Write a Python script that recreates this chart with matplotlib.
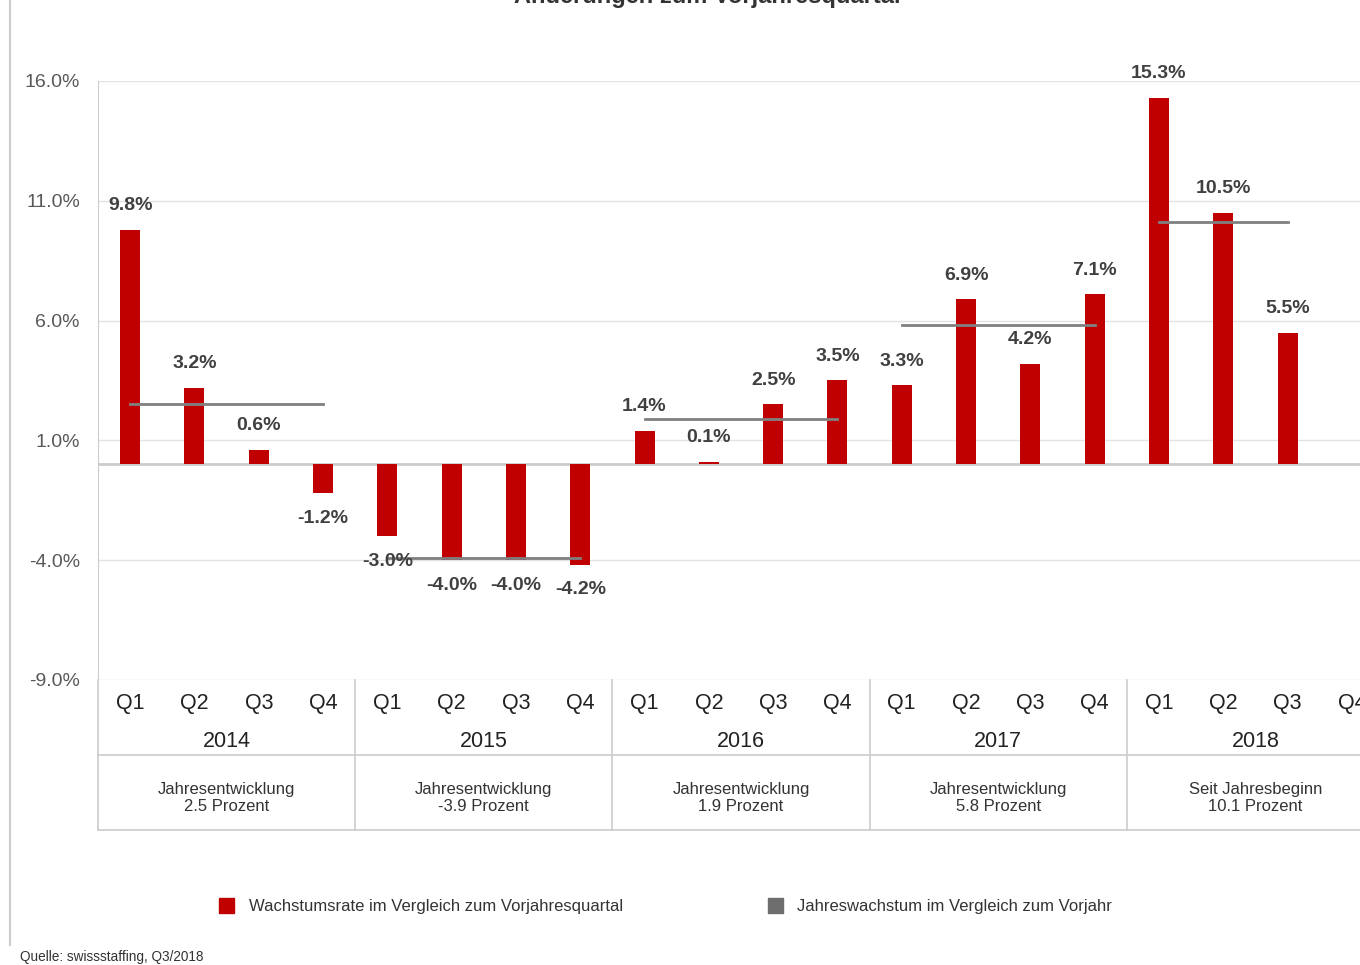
import matplotlib.pyplot as plt
import matplotlib.patches as mpatches
from matplotlib.lines import Line2D

plt.rcParams['font.family'] = ['Liberation Sans', 'DejaVu Sans']

# Data
years = ['2014', '2015', '2016', '2017', '2018']
quarters = ['Q1', 'Q2', 'Q3', 'Q4']
quarterly = [9.8, 3.2, 0.6, -1.2,
             -3.0, -4.0, -4.0, -4.2,
             1.4, 0.1, 2.5, 3.5,
             3.3, 6.9, 4.2, 7.1,
             15.3, 10.5, 5.5]
annual = [2.5, -3.9, 1.9, 5.8, 10.1]
annual_titles = ['Jahresentwicklung', 'Jahresentwicklung', 'Jahresentwicklung',
                 'Jahresentwicklung', 'Seit Jahresbeginn']
annual_text = ['2.5 Prozent', '-3.9 Prozent', '1.9 Prozent', '5.8 Prozent', '10.1 Prozent']
yticks = [16, 11, 6, 1, -4, -9]

red = '#c00000'
gray = '#808080'
grid = '#e3e3e3'
txt = '#404040'

fig = plt.figure(figsize=(13.6, 9.65), dpi=100)
ax = fig.add_axes([98 / 1360, 285 / 965, 1286 / 1360, 599 / 965])

x = list(range(len(quarterly)))
ax.bar(x, quarterly, width=0.31, color=red, zorder=3)

# value labels
for xi, v in zip(x, quarterly):
    off = 24 if v >= 0 else -25
    ax.annotate(f'{v:.1f}%', (xi, v), xytext=(0, off * 0.72), textcoords='offset points',
                ha='center', va='center', fontsize=14, fontweight='bold', color=txt, zorder=5)

# annual growth lines
for i, a in enumerate(annual):
    x0 = i * 4
    x1 = min(i * 4 + 3, len(quarterly) - 1)
    ax.plot([x0, x1], [a, a], color=gray, lw=2, zorder=4)

ax.set_xlim(-0.5, 19.5)
ax.set_ylim(-9, 16)
ax.set_yticks(yticks)
ax.set_yticklabels([f'{t:.1f}%' for t in yticks])
ax.tick_params(axis='y', length=0, pad=13, labelsize=14, labelcolor='#595959')
ax.set_xticks([])
for t in yticks:
    ax.axhline(t, color=grid, lw=1, zorder=1)
ax.axhline(0, color='#cccccc', lw=2, zorder=2)
for s in ['top', 'right', 'bottom']:
    ax.spines[s].set_visible(False)
ax.spines['left'].set_color('#cccccc')

# category area below the plot
tr = ax.get_xaxis_transform()
line_kw = dict(color='#cccccc', lw=1.2, transform=tr, clip_on=False)
ax.plot([-0.5, 19.5], [-0.125, -0.125], **line_kw)
ax.plot([-0.5, 19.5], [-0.25, -0.25], **line_kw)
ax.plot([-0.5, -0.5], [0, -0.25], **line_kw)
for b in [3.5, 7.5, 11.5, 15.5]:
    ax.plot([b, b], [0, -0.25], **line_kw)

for i, yr in enumerate(years):
    for j, q in enumerate(quarters):
        ax.text(i * 4 + j, -0.04, q, transform=tr, ha='center', va='center',
                fontsize=15.5, color='#222222')
    ax.text(i * 4 + 1.5, -0.1035, yr, transform=tr, ha='center', va='center',
            fontsize=15.5, color='#222222')
    ax.text(i * 4 + 1.5, -0.197, annual_titles[i] + '\n' + annual_text[i], transform=tr,
            ha='center', va='center', fontsize=12, color='#333333', linespacing=1.15)

# cut-off title at the top (only its lower edge is visible)
fig.text(0.52, 1 - 3 / 965, 'Änderungen zum Vorjahresquartal', ha='center', va='baseline',
         fontsize=17, fontweight='bold', color='#333333')

# left frame line
fig.add_artist(Line2D([10 / 1360, 10 / 1360], [1, 20 / 965], color='#cccccc', lw=1.5))

# legend
fig.add_artist(mpatches.Rectangle((219 / 1360, 52 / 965), 15 / 1360, 15 / 965, color=red))
fig.text(249 / 1360, 59 / 965, 'Wachstumsrate im Vergleich zum Vorjahresquartal',
         ha='left', va='center', fontsize=12, color='#333333')
fig.add_artist(mpatches.Rectangle((768 / 1360, 52 / 965), 15 / 1360, 15 / 965, color='#6e6e6e'))
fig.text(797 / 1360, 59 / 965, 'Jahreswachstum im Vergleich zum Vorjahr',
         ha='left', va='center', fontsize=12, color='#333333')

fig.text(20 / 1360, 8 / 965, 'Quelle: swissstaffing, Q3/2018', ha='left', va='center',
         fontsize=9.8, color='#333333')

fig.savefig('out.png', dpi=100)
